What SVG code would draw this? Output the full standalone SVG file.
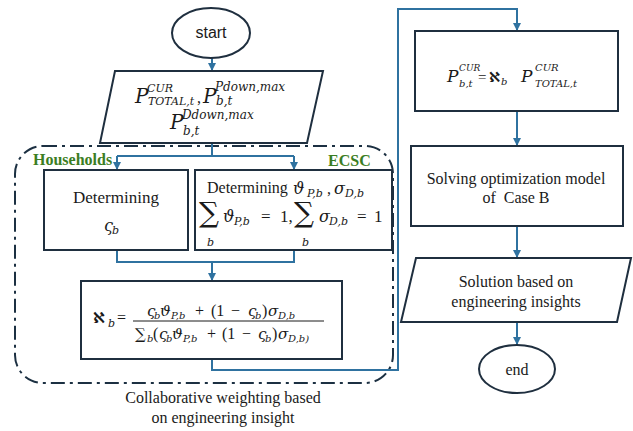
<svg xmlns="http://www.w3.org/2000/svg" width="633" height="431" viewBox="0 0 633 431">
  <style>
    .box { fill: #ffffff; stroke: #1f2f3f; stroke-width: 2; }
    .wire { fill: none; stroke: #2f72a0; stroke-width: 2; }
    .group { fill: none; stroke: #1c3042; stroke-width: 2; stroke-dasharray: 14 5 3 5; }
    .t { font-family: "Liberation Serif", "Times New Roman", serif; fill: #1a1a1a; }
    .sans { font-family: "Liberation Sans", Arial, sans-serif; fill: #1a1a1a; }
    .m { font-family: "DejaVu Serif", serif; font-style: italic; fill: #1a1a1a; }
    .u { font-family: "Liberation Serif", "DejaVu Serif", serif; fill: #1a1a1a; }
    .op { font-family: "DejaVu Serif", serif; fill: #1a1a1a; }
    .alef { font-family: "DejaVu Sans", "Noto Sans", sans-serif; font-weight: bold; fill: #1a1a1a; }
    .lbl { font-family: "Liberation Serif", "Times New Roman", serif; font-weight: bold; fill: #3b7d23; font-size: 16px; }
  </style>
  <defs>
    <marker id="arrow" viewBox="0 0 8 8" refX="8" refY="4" markerWidth="8" markerHeight="8" markerUnits="userSpaceOnUse" orient="auto">
      <path d="M0,0 L8,4 L0,8 Z" fill="#2f72a0"/>
    </marker>
  </defs>

  <!-- dash-dot boundary of the collaborative weighting stage -->
  <rect class="group" x="15" y="146" width="378" height="237" rx="28" ry="28"/>

  <!-- connectors -->
  <g id="connectors">
    <path class="wire" d="M212,58 V71" marker-end="url(#arrow)"/>
    <path class="wire" d="M212,143 V156"/>
    <path class="wire" d="M117,156 H294"/>
    <path class="wire" d="M117,156 V170" marker-end="url(#arrow)"/>
    <path class="wire" d="M294,156 V170" marker-end="url(#arrow)"/>
    <path class="wire" d="M117,250 V262 H294 V250"/>
    <path class="wire" d="M212,262 V281" marker-end="url(#arrow)"/>
    <path class="wire" d="M212,359 V370 H398 V9 H517 V31" marker-end="url(#arrow)"/>
    <path class="wire" d="M517,111 V146" marker-end="url(#arrow)"/>
    <path class="wire" d="M517,226 V258" marker-end="url(#arrow)"/>
    <path class="wire" d="M517,322 V345" marker-end="url(#arrow)"/>
  </g>

  <!-- start -->
  <g id="start">
    <ellipse class="box" cx="211" cy="33" rx="39" ry="25"/>
    <text class="sans" x="211" y="38" font-size="16" text-anchor="middle">start</text>
  </g>

  <!-- input data -->
  <g id="input">
    <polygon class="box" points="115,71 323,71 307,143 100,143"/>
    <text class="m" font-size="20" x="135" y="103">P</text>
    <text class="m" font-size="11" x="147" y="92">CUR</text>
    <text class="m" font-size="11" x="148" y="105">TOTAL,t</text>
    <text class="u" font-size="16" x="197" y="103">,</text>
    <text class="m" font-size="20" x="203" y="103">P</text>
    <text class="m" font-size="12" x="215" y="91">Pdown,max</text>
    <text class="m" font-size="12" x="216" y="105">b,t</text>
    <text class="m" font-size="20" x="170" y="129">P</text>
    <text class="m" font-size="12" x="182" y="119">Ddown,max</text>
    <text class="m" font-size="12" x="183" y="135">b,t</text>
  </g>

  <!-- group labels -->
  <text class="lbl" x="33" y="165">Households</text>
  <text class="lbl" x="328" y="166">ECSC</text>

  <!-- households weight -->
  <g id="households">
    <rect class="box" x="44" y="170" width="144" height="80"/>
    <text class="t" font-size="17" x="116" y="203" text-anchor="middle">Determining</text>
    <text class="m" font-size="16" x="104" y="231">ς</text>
    <text class="m" font-size="11" x="112" y="234">b</text>
  </g>

  <!-- ECSC weights -->
  <g id="ecsc">
    <rect class="box" x="195" y="170" width="197" height="80"/>
    <text class="t" font-size="16" x="207" y="193">Determining</text>
    <text class="m" font-size="16" x="293" y="194">ϑ</text>
    <text class="m" font-size="11" x="307" y="197">P,b</text>
    <text class="u" font-size="16" x="327" y="194">,</text>
    <text class="m" font-size="16" x="334" y="194">σ</text>
    <text class="m" font-size="11" x="345" y="197">D,b</text>

    <text class="op" font-size="28" x="199" y="222">∑</text>
    <text class="m" font-size="11" x="207" y="246">b</text>
    <text class="m" font-size="16" x="223" y="222">ϑ</text>
    <text class="m" font-size="11" x="234" y="225">P,b</text>
    <text class="u" font-size="17" x="261" y="222">=</text>
    <text class="u" font-size="17" x="280" y="222">1,</text>
    <text class="op" font-size="28" x="294" y="222">∑</text>
    <text class="m" font-size="11" x="302" y="246">b</text>
    <text class="m" font-size="16" x="319" y="222">σ</text>
    <text class="m" font-size="11" x="329" y="225">D,b</text>
    <text class="u" font-size="17" x="357" y="222">=</text>
    <text class="u" font-size="17" x="374" y="222">1</text>
  </g>

  <!-- collaborative weight -->
  <g id="weight">
    <rect class="box" x="81" y="281" width="261" height="78"/>
    <text class="alef" font-size="15" x="93" y="323">ℵ</text>
    <text class="m" font-size="11" x="108" y="327">b</text>
    <text class="u" font-size="16" x="117" y="323">=</text>
    <line x1="133" y1="321" x2="324" y2="321" stroke="#1a1a1a" stroke-width="1"/>
    <!-- numerator -->
    <text class="m" font-size="15" x="147" y="316">ς</text>
    <text class="m" font-size="10" x="154" y="319">b</text>
    <text class="m" font-size="15" x="160" y="316">ϑ</text>
    <text class="m" font-size="10" x="171" y="319">P,b</text>
    <text class="u" font-size="16" x="195" y="316">+</text>
    <text class="u" font-size="16" x="211" y="316">(1</text>
    <text class="u" font-size="16" x="231" y="316">−</text>
    <text class="m" font-size="15" x="248" y="316">ς</text>
    <text class="m" font-size="10" x="255" y="319">b</text>
    <text class="u" font-size="16" x="262" y="316">)</text>
    <text class="m" font-size="15" x="268" y="316">σ</text>
    <text class="m" font-size="10" x="278" y="319">D,b</text>
    <!-- denominator -->
    <text class="op" font-size="15" x="135" y="339">∑</text>
    <text class="m" font-size="10" x="147" y="342">b</text>
    <text class="u" font-size="16" x="153" y="339">(</text>
    <text class="m" font-size="15" x="159" y="339">ς</text>
    <text class="m" font-size="10" x="166" y="342">b</text>
    <text class="m" font-size="15" x="172" y="339">ϑ</text>
    <text class="m" font-size="10" x="183" y="342">P,b</text>
    <text class="u" font-size="16" x="207" y="339">+</text>
    <text class="u" font-size="16" x="222" y="339">(1</text>
    <text class="u" font-size="16" x="242" y="339">−</text>
    <text class="m" font-size="15" x="258" y="339">ς</text>
    <text class="m" font-size="10" x="265" y="342">b</text>
    <text class="u" font-size="16" x="272" y="339">)</text>
    <text class="m" font-size="15" x="278" y="339">σ</text>
    <text class="m" font-size="10" x="288" y="342">D,b)</text>
  </g>

  <!-- stage caption -->
  <text class="t" font-size="16" x="223" y="403" text-anchor="middle">Collaborative weighting based</text>
  <text class="t" font-size="16" x="223" y="423" text-anchor="middle">on engineering insight</text>

  <!-- per-building curtailment -->
  <g id="allocate">
    <rect class="box" x="415" y="31" width="203" height="80"/>
    <text class="m" font-size="17" x="447" y="82">P</text>
    <text class="m" font-size="9" x="459" y="71">CUR</text>
    <text class="m" font-size="10" x="459" y="87">b,t</text>
    <text class="u" font-size="15" x="478" y="82">=</text>
    <text class="alef" font-size="14" x="489" y="82">ℵ</text>
    <text class="m" font-size="10" x="501" y="85">b</text>
    <text class="m" font-size="17" x="521" y="82">P</text>
    <text class="m" font-size="10" x="535" y="71">CUR</text>
    <text class="m" font-size="10" x="535" y="87">TOTAL,t</text>
  </g>

  <!-- optimization -->
  <g id="solve">
    <rect class="box" x="411" y="146" width="212" height="80"/>
    <text class="t" font-size="16" x="516" y="184" text-anchor="middle">Solving optimization model</text>
    <text class="t" font-size="16" x="516" y="203" text-anchor="middle" style="white-space:pre">of  Case B</text>
  </g>

  <!-- solution output -->
  <g id="solution">
    <polygon class="box" points="416,258 631,258 617,322 401,322"/>
    <text class="t" font-size="16" x="516" y="287" text-anchor="middle">Solution based on</text>
    <text class="t" font-size="16" x="516" y="307" text-anchor="middle">engineering insights</text>
  </g>

  <!-- end -->
  <g id="end">
    <ellipse class="box" cx="517" cy="369" rx="38" ry="24"/>
    <text class="t" font-size="16" x="517" y="375" text-anchor="middle">end</text>
  </g>
</svg>
